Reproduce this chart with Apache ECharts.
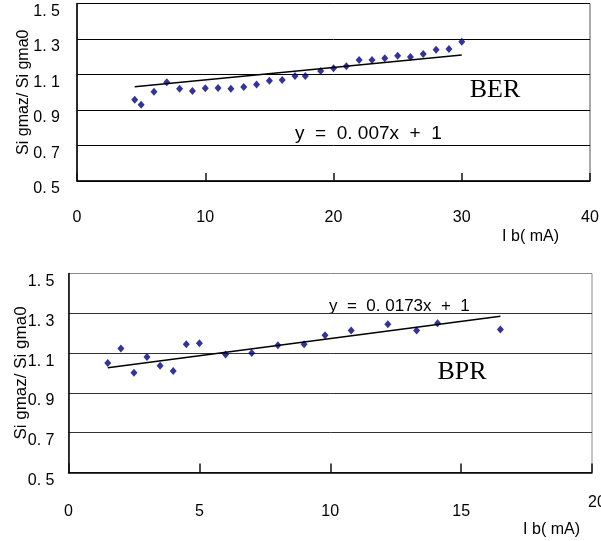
<!DOCTYPE html>
<html>
<head>
<meta charset="utf-8">
<script src="https://cdn.jsdelivr.net/npm/echarts@6/dist/echarts.min.js"></script>
<style>
  html, body { margin: 0; padding: 0; background: #fff; }
  #chart { width: 601px; height: 541px; }
</style>
</head>
<body>
<div id="chart"></div>
<script>
// BER: bunch lengthening sigma_z / sigma_0 against beam current Ib (mA)
const berCurrent = [4.5, 5, 6, 7, 8, 9, 10, 11, 12, 13, 14, 15, 16, 17, 17.8, 19, 20, 21, 22, 23, 24, 25, 26, 27, 28, 29, 30];
const berRatio   = [0.958, 0.930, 1.003, 1.056, 1.020, 1.007, 1.022, 1.024, 1.020, 1.030, 1.043, 1.065, 1.069, 1.092, 1.092,
                    1.120, 1.135, 1.146, 1.182, 1.182, 1.191, 1.206, 1.199, 1.216, 1.240, 1.244, 1.285];
const berFitSlope = 0.007;
const berFitIntercept = 1;
const berFitRange = [4.5, 30];
const berEquation = 'y  =  0. 007x  +  1';
const berName = 'BER';

// BPR: same quantity for the other ring
const bprCurrent = [1.5, 2, 2.5, 3, 3.5, 4, 4.5, 5, 6, 7, 8, 9, 9.8, 10.8, 12.2, 13.3, 14.1, 16.5];
const bprRatio   = [1.050, 1.123, 1.001, 1.081, 1.036, 1.010, 1.145, 1.150, 1.093, 1.101, 1.140, 1.145, 1.190, 1.213,
                    1.245, 1.213, 1.250, 1.218];
const bprFitSlope = 0.0173;
const bprFitIntercept = 1;
const bprFitRange = [1.5, 16.5];
const bprEquation = 'y  =  0. 0173x  +  1';
const bprName = 'BPR';

// Axis tick labels
const ratioTicks = ['0. 5', '0. 7', '0. 9', '1. 1', '1. 3', '1. 5'];
const berCurrentTicks = ['0', '10', '20', '30', '40'];
const bprCurrentTicks = ['0', '5', '10', '15', '20'];
const ratioTitle = 'Si gmaz/ Si gma0';
const currentTitle = 'I b( mA)';

const SANS = '"Liberation Sans", Arial, sans-serif';
const SERIF = '"Liberation Serif", "Times New Roman", serif';

const toPairs = (xs, ys) => xs.map((x, i) => [x, ys[i]]);
const fitLine = (slope, icpt, range) => range.map(x => [x, slope * x + icpt]);

const chart = echarts.init(document.getElementById('chart'), null, { renderer: 'canvas' });

function yAxisFor(gridIndex, nameGap, nameSize, margin, gridColor, showMax) {
  return {
    type: 'value', gridIndex, min: 0.5, max: 1.5, interval: 0.2,
    name: ratioTitle, nameLocation: 'middle', nameRotate: 90, nameGap, nameMoveOverlap: false,
    nameTextStyle: { fontFamily: SANS, fontSize: nameSize, color: '#000' },
    axisLine: { show: true, onZero: false, lineStyle: { color: '#000', width: 1.5 } },
    axisTick: { show: false },
    axisLabel: {
      margin, fontFamily: SANS, fontSize: 16, color: '#000', verticalAlign: 'top',
      formatter: v => ratioTicks[Math.round((v - 0.5) / 0.2)]
    },
    splitLine: { show: true, showMaxLine: showMax, lineStyle: { color: gridColor, width: 1 } }
  };
}

function xAxisFor(gridIndex, max, interval, ticks, tickLen, margin, namePad, formatter, rich) {
  return {
    type: 'value', gridIndex, min: 0, max, interval,
    name: currentTitle, nameLocation: 'end', nameGap: 0, nameMoveOverlap: false,
    nameTextStyle: { fontFamily: SANS, fontSize: 16, color: '#000', align: 'right', verticalAlign: 'top', padding: namePad },
    axisLine: { show: true, onZero: false, lineStyle: { color: '#000', width: 1.5 } },
    axisTick: { show: true, inside: true, length: tickLen, lineStyle: { color: '#111', width: 1.5, type: 'solid' } },
    axisLabel: {
      margin, fontFamily: SANS, fontSize: 16, color: '#000', verticalAlign: 'middle',
      formatter: formatter || (v => ticks[Math.round(v / interval)]),
      rich: rich || {}
    },
    splitLine: { show: false }
  };
}

const option = {
  backgroundColor: '#fff',
  animation: false,
  grid: [
    { left: 77, right: 11, top: 3.5, bottom: 360, outerBoundsMode: 'none', containLabel: false,
      show: true, borderColor: '#555', borderWidth: 1, backgroundColor: 'transparent' },
    { left: 68.5, right: 9, top: 273.5, bottom: 68.5, outerBoundsMode: 'none', containLabel: false,
      show: true, borderColor: '#8a8a8a', borderWidth: 1, backgroundColor: 'transparent' }
  ],
  xAxis: [
    xAxisFor(0, 40, 10, berCurrentTicks, 8, 37, [48, 31, 0, 0]),
    xAxisFor(1, 20, 5, bprCurrentTicks, 9, 39, [49, 12, 0, 0],
      v => {
        const t = bprCurrentTicks[Math.round(v / 5)];
        return v === 20 ? '{hi|' + t + '}\n{gap| }' : t;
      },
      {
        hi: { fontFamily: SANS, fontSize: 16, lineHeight: 16, color: '#000', padding: [0, 0, 0, 10] },
        gap: { fontFamily: SANS, fontSize: 16, lineHeight: 17, height: 17 }
      })
  ],
  yAxis: [
    yAxisFor(0, 45, 16, 17, '#000', true),
    yAxisFor(1, 39, 17, 14, '#333', false)
  ],
  series: [
    {
      type: 'scatter', xAxisIndex: 0, yAxisIndex: 0,
      data: toPairs(berCurrent, berRatio),
      symbol: 'diamond', symbolSize: [7, 8],
      itemStyle: { color: '#000080' }, silent: true
    },
    {
      type: 'line', xAxisIndex: 0, yAxisIndex: 0,
      data: fitLine(berFitSlope, berFitIntercept, berFitRange),
      symbol: 'none', lineStyle: { color: '#000', width: 1.5 }, silent: true
    },
    {
      type: 'scatter', xAxisIndex: 1, yAxisIndex: 1,
      data: toPairs(bprCurrent, bprRatio),
      symbol: 'diamond', symbolSize: [7, 8],
      itemStyle: { color: '#000080' }, silent: true
    },
    {
      type: 'line', xAxisIndex: 1, yAxisIndex: 1,
      data: fitLine(bprFitSlope, bprFitIntercept, bprFitRange),
      symbol: 'none', lineStyle: { color: '#000', width: 1.5 }, silent: true
    }
  ],
  graphic: [
    { type: 'text', x: 295, y: 134, style: { text: berEquation, font: '19px ' + SANS, fill: '#000', align: 'left', verticalAlign: 'middle' } },
    { type: 'text', x: 495, y: 90, style: { text: berName, font: '26px ' + SERIF, fill: '#000', align: 'center', verticalAlign: 'middle' } },
    { type: 'text', x: 329, y: 306, style: { text: bprEquation, font: '17px ' + SANS, fill: '#000', align: 'left', verticalAlign: 'middle' } },
    { type: 'text', x: 462, y: 372, style: { text: bprName, font: '26px ' + SERIF, fill: '#000', align: 'center', verticalAlign: 'middle' } }
  ]
};

chart.setOption(option);
</script>
</body>
</html>
